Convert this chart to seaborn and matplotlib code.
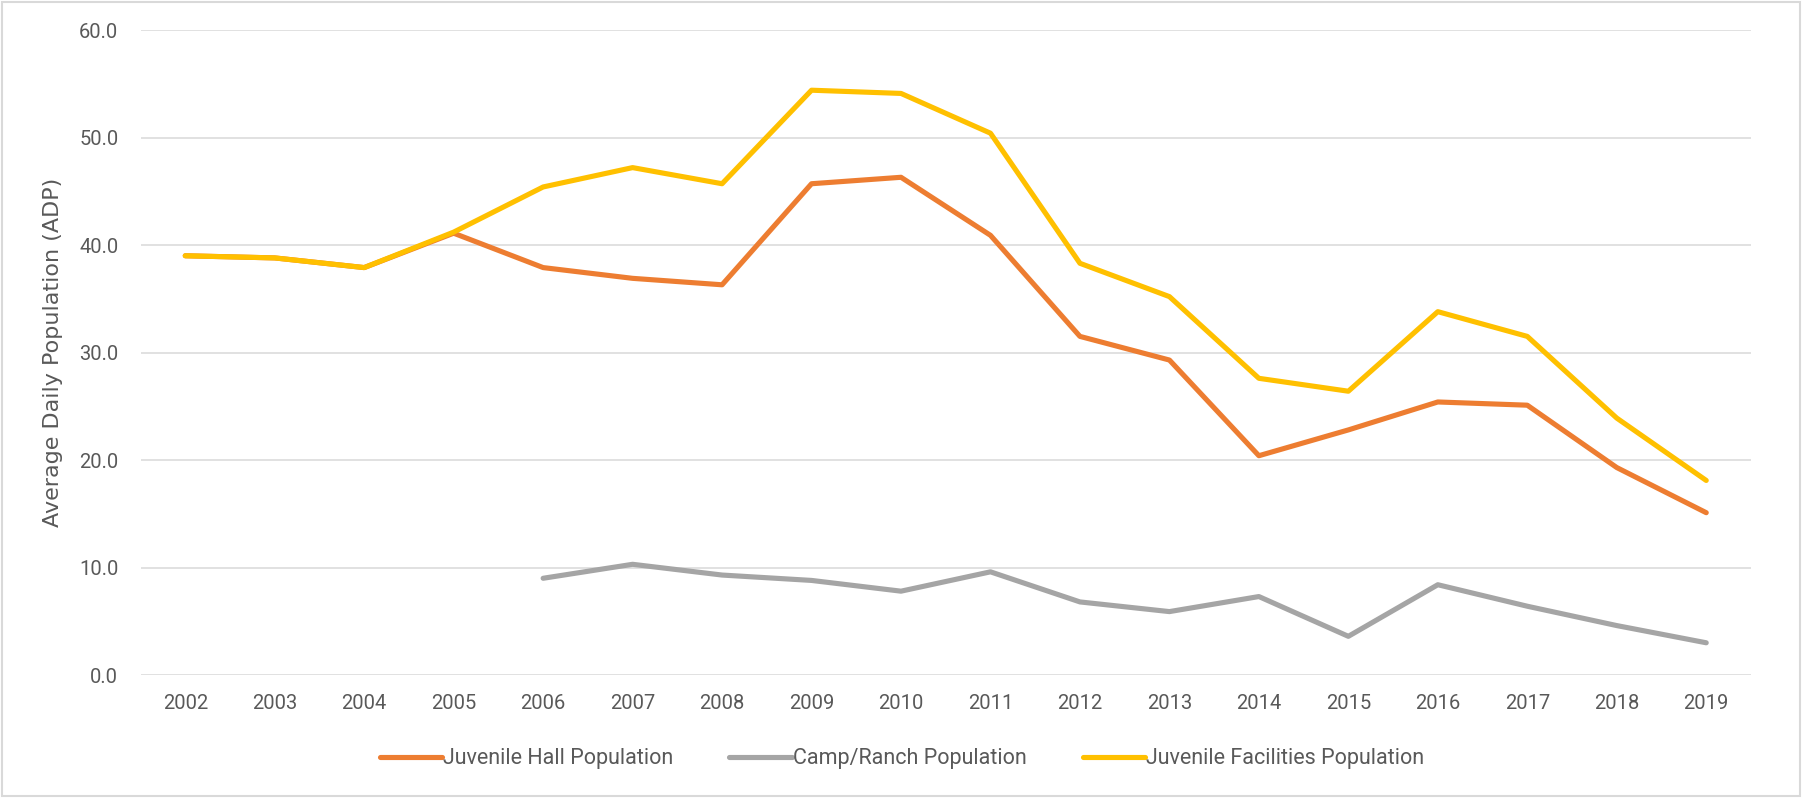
"""Average daily population: juvenile hall, camp/ranch and all juvenile facilities, 2002-2019."""

import matplotlib
matplotlib.use("Agg")
import matplotlib.pyplot as plt
import numpy as np
import pandas as pd
import seaborn as sns
from matplotlib.patches import Rectangle
from matplotlib.ticker import FormatStrFormatter

years = list(range(2002, 2020))
hall = [39.0, 38.8, 37.9, 41.1, 37.9, 36.9, 36.3, 45.7, 46.3, 40.9,
        31.5, 29.3, 20.4, 22.8, 25.4, 25.1, 19.3, 15.1]
camp = [np.nan, np.nan, np.nan, np.nan, 9.0, 10.3, 9.3, 8.8, 7.8, 9.6,
        6.8, 5.9, 7.3, 3.6, 8.4, 6.4, 4.6, 3.0]
facilities = [39.0, 38.8, 37.9, 41.2, 45.4, 47.2, 45.7, 54.4, 54.1, 50.4,
              38.3, 35.2, 27.6, 26.4, 33.8, 31.5, 23.9, 18.1]

series_names = ["Juvenile Hall Population", "Camp/Ranch Population",
                "Juvenile Facilities Population"]
palette = {"Juvenile Hall Population": "#ED7D31",
           "Camp/Ranch Population": "#A5A5A5",
           "Juvenile Facilities Population": "#FFC000"}

df = pd.concat([
    pd.DataFrame({"Year": years, "ADP": vals, "Series": name})
    for name, vals in zip(series_names, [hall, camp, facilities])
], ignore_index=True).dropna()

sns.set_theme(style="white")
plt.rcParams["font.family"] = ["Roboto", "DejaVu Sans"]
text_color = "#595959"

fig = plt.figure(figsize=(18.04, 7.98), dpi=100)
ax = fig.add_axes([0.0779, 0.1541, 0.8927, 0.8083])

sns.lineplot(data=df, x="Year", y="ADP", hue="Series", hue_order=series_names,
             palette=palette, linewidth=3.7, ax=ax, legend=True)

ax.set_xlim(2001.5, 2019.5)
ax.set_ylim(0, 60)
ax.set_xticks(years)
ax.set_xticklabels([str(y) for y in years])
ax.set_yticks(np.arange(0, 61, 10))
ax.yaxis.set_major_formatter(FormatStrFormatter("%.1f"))
ax.grid(axis="y", color="#D9D9D9", linewidth=1.1)
ax.grid(axis="x", visible=False)
for side in ["top", "right", "left", "bottom"]:
    ax.spines[side].set_visible(False)
ax.tick_params(axis="both", length=0, labelsize=14.5, colors=text_color)
ax.tick_params(axis="x", pad=14)
ax.tick_params(axis="y", pad=16)

ax.set_xlabel("")
ax.set_ylabel("Average Daily Population (ADP)", fontsize=16, color=text_color,
              family=["DejaVu Sans"])
ax.yaxis.set_label_coords(-0.048, 0.5)

handles, labels = ax.get_legend_handles_labels()
ax.legend_.remove()
leg = fig.legend(handles, labels, loc="center", bbox_to_anchor=(0.5, 0.049),
                 ncol=3, frameon=False, fontsize=15.5, handlelength=2.9,
                 handletextpad=0.05, columnspacing=2.6)
for t in leg.get_texts():
    t.set_color(text_color)
for line in leg.get_lines():
    line.set_linewidth(3.7)
    line.set_solid_capstyle("round")

fig.patches.append(Rectangle((0.001, 0.002), 0.997, 0.995, transform=fig.transFigure,
                             fill=False, edgecolor="#D9D9D9", linewidth=1.5))

fig.savefig("out.png", dpi=100)
plt.close(fig)
